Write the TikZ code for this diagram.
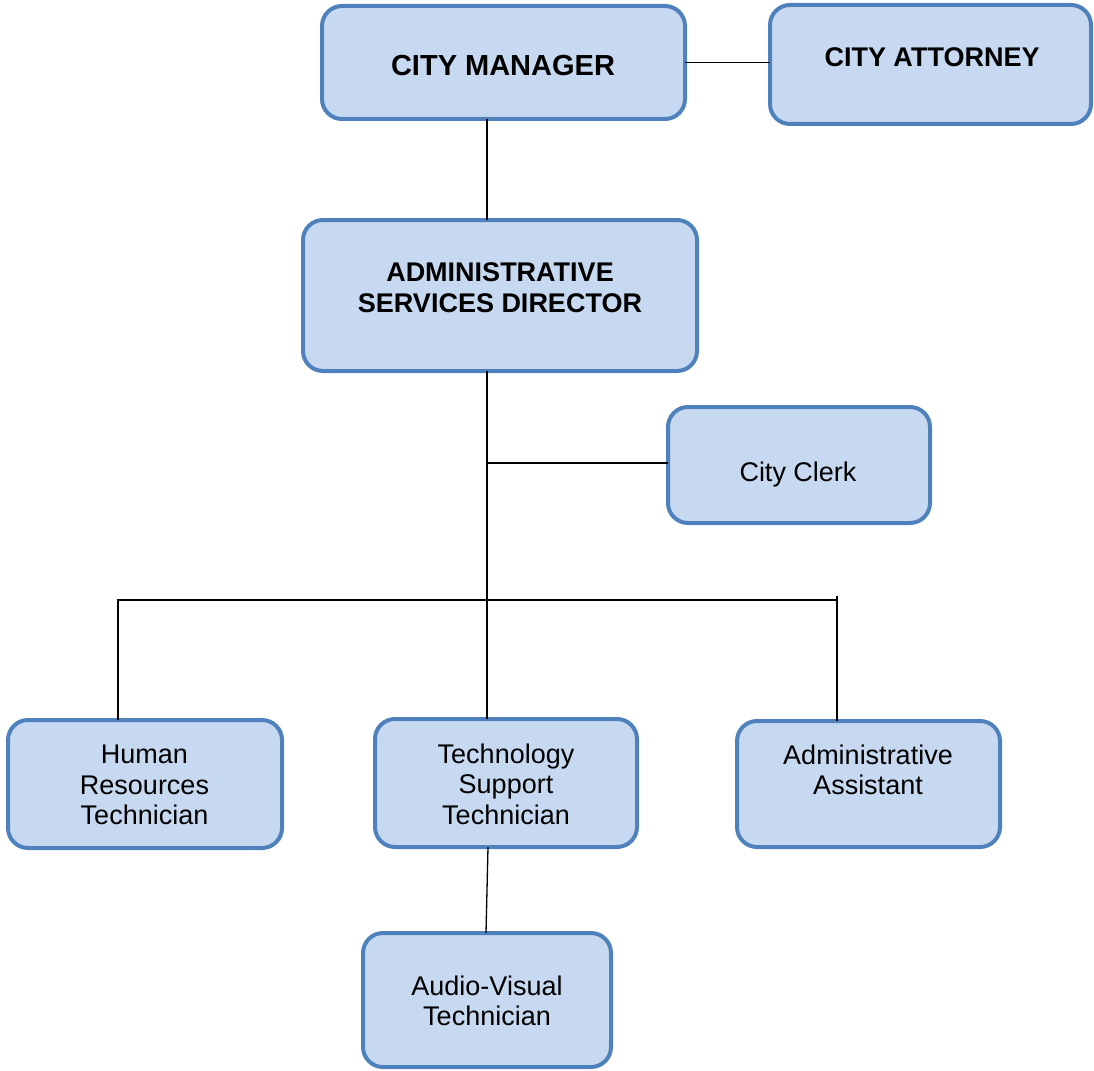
\documentclass[tikz,border=0pt]{standalone}
\usepackage{fontspec}
\setmainfont{Liberation Sans}
\definecolor{boxfill}{HTML}{C6D9F1}
\definecolor{boxline}{HTML}{4F81BD}
\begin{document}
\begin{tikzpicture}[x=1pt,y=-1pt,
  orgbox/.style={draw=boxline, fill=boxfill, line width=4pt, rounded corners=20pt, inner sep=0pt, outer sep=0pt},
  boldtxt/.style={font=\bfseries\fontsize{27}{31}\selectfont, align=center, inner sep=0pt},
  bigtxt/.style={font=\bfseries\fontsize{29}{33}\selectfont, align=center, inner sep=0pt},
  plaintxt/.style={font=\fontsize{27}{30.5}\selectfont, align=center, inner sep=0pt},
  link/.style={draw=black, line width=1.3pt}]
\useasboundingbox (0,0) rectangle (1094,1070);
% boxes
\node[orgbox, minimum width=363pt, minimum height=113pt] (cm) at (503.5,62.5) {};
\node[orgbox, minimum width=321pt, minimum height=119pt] (ca) at (930.5,64.5) {};
\node[orgbox, minimum width=394pt, minimum height=151pt] (asd) at (500,295.5) {};
\node[orgbox, minimum width=262pt, minimum height=116pt] (cc) at (799,465) {};
\node[orgbox, minimum width=274pt, minimum height=128pt] (hr) at (145,784) {};
\node[orgbox, minimum width=262pt, minimum height=128pt] (ts) at (506,783) {};
\node[orgbox, minimum width=263pt, minimum height=126pt] (aa) at (868.5,784) {};
\node[orgbox, minimum width=248pt, minimum height=134pt] (av) at (487,1000) {};
% texts
\node[bigtxt] (cmt) at (503,66) {CITY MANAGER};
\node[boldtxt] (cat) at (932,57) {CITY ATTORNEY};
\node[boldtxt] (asdt) at (500,288) {ADMINISTRATIVE\\SERVICES DIRECTOR};
\node[plaintxt] (cct) at (798,475) {City Clerk};
\node[plaintxt] (hrt) at (144.5,785) {Human\\Resources\\Technician};
\node[plaintxt] (tst) at (506,784) {Technology\\Support\\Technician};
\node[plaintxt] (aat) at (868,770) {Administrative\\Assistant};
\node[plaintxt] (avt) at (487,1001) {Audio-Visual\\Technician};
% junctions
\coordinate (j1) at (487,463);
\coordinate (bl) at (118,600);
\coordinate (br) at (837,600);
\coordinate (brt) at (837,596);
\coordinate (tsb) at (488,0);
\coordinate (avt0) at (486,0);
% connectors
\draw[link] (cm.east) -- (ca.west |- cm.east);
\draw[link] (cm.south -| j1) -- (asd.north -| j1);
\draw[link] (asd.south -| j1) -- (ts.north -| j1);
\draw[link] (j1) -- (cc.west |- j1);
\draw[link] (hr.north -| bl) -- (bl) -- (br);
\draw[link] (brt) -- (aa.north -| brt);
\draw[link] (ts.south -| tsb) -- (av.north -| avt0);
\end{tikzpicture}
\end{document}
